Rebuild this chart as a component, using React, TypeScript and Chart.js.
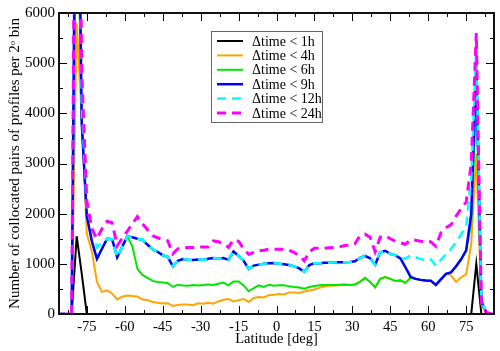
import React, { useEffect, useRef } from 'react';
import { Chart, registerables } from 'chart.js';

Chart.register(...registerables);

// Bin centres (2° bins), latitude in degrees
const latitudes = [
  -89, -87, -85, -83, -81, -79, -77, -75, -73, -71, -69, -67, -65, -63, -61, -59, -57, -55, -53, -51,
  -49, -47, -45, -43, -41, -39, -37, -35, -33, -31, -29, -27, -25, -23, -21, -19, -17, -15, -13, -11,
  -9, -7, -5, -3, -1, 1, 3, 5, 7, 9, 11, 13, 15, 17, 19, 21, 23, 25, 27, 29,
  31, 33, 35, 37, 39, 41, 43, 45, 47, 49, 51, 53, 55, 57, 59, 61, 63, 65, 67, 69,
  71, 73, 75, 77, 79, 81, 83, 85, 87, 89,
];

const lt1h = [
  0, 0, 0, 0, 0, 1550, 800, 0, 0, 0, 0, 0, 0, 0, 0, 0, 0, 0, 0, 0,
  0, 0, 0, 0, 0, 0, 0, 0, 0, 0, 0, 0, 0, 0, 0, 0, 0, 0, 0, 0,
  0, 0, 0, 0, 0, 0, 0, 0, 0, 0, 0, 0, 0, 0, 0, 0, 0, 0, 0, 0,
  0, 0, 0, 0, 0, 0, 0, 0, 0, 0, 0, 0, 0, 0, 0, 0, 0, 0, 0, 0,
  0, 0, 0, 0, 1000, 0, 0, 0, 0, 0,
];

const lt4h = [
  0, 0, 0, 0, 0, 5800, 3900, 1600, 1250, 640, 440, 470, 410, 290, 345, 370, 360, 350, 290, 280,
  240, 225, 210, 215, 160, 180, 190, 190, 175, 215, 205, 225, 205, 250, 285, 300, 250, 275, 300, 240,
  320, 340, 330, 375, 385, 400, 390, 430, 430, 420, 450, 470, 490, 525, 550, 565, 570, 575, 584, 580,
  590, 640, 720, 640, 530, 700, 735, 700, 660, 670, 620, 720, 700, 680, 670, 665, 580, 690, 800, 770,
  640, 730, 790, 1400, 3200, 200, 0, 0, 0, 0,
];

const lt6h = [
  0, 0, 0, 0, 0, 9000, 3800, 1950, 1450, 1100, 1300, 1500, 1490, 1130, 1340, 1550, 1350, 900, 780, 720,
  660, 640, 630, 620, 540, 584, 570, 565, 577, 570, 577, 590, 577, 603, 625, 570, 650, 650, 570, 453,
  518, 570, 538, 584, 564, 575, 571, 551, 538, 530, 505, 538, 558, 571, 577, 577, 580, 584, 590, 580,
  590, 640, 720, 640, 530, 700, 735, 700, 660, 670, 620, 720, 700, 680, 670, 665, 580, 690, 800, 830,
  950, 1090, 1270, 1800, 4400, 250, 30, 0, 0, 0,
];

const lt9h = [
  0, 0, 0, 0, 0, 12000, 3800, 1950, 1450, 1100, 1300, 1500, 1490, 1130, 1340, 1550, 1530, 1500, 1480, 1380,
  1290, 1240, 1170, 1140, 950, 1060, 1095, 1080, 1076, 1085, 1076, 1100, 1115, 1100, 1115, 1080, 1246, 1160, 1062, 899,
  964, 984, 1000, 1010, 1015, 1000, 990, 975, 950, 910, 840, 975, 1010, 1010, 1023, 1023, 1028, 1030, 1030, 1036,
  1050, 1120, 1160, 1110, 980, 1230, 1260, 1200, 1170, 1110, 930, 740, 700, 680, 670, 665, 580, 690, 800, 830,
  950, 1090, 1270, 2000, 5000, 250, 30, 0, 0, 0,
];

const lt12h = [
  0, 0, 0, 0, 0, 12500, 4200, 2100, 1750, 1330, 1420, 1500, 1490, 1130, 1340, 1550, 1530, 1500, 1480, 1380,
  1290, 1240, 1170, 1140, 950, 1060, 1095, 1080, 1076, 1085, 1076, 1100, 1115, 1100, 1115, 1080, 1246, 1160, 1062, 899,
  964, 984, 1000, 1010, 1015, 1000, 990, 975, 950, 910, 840, 975, 1010, 1010, 1023, 1023, 1028, 1030, 1030, 1036,
  1050, 1120, 1160, 1110, 980, 1230, 1260, 1200, 1170, 1110, 1100, 1170, 1130, 1100, 1060, 1090, 960, 1080, 1190, 1300,
  1430, 1590, 1750, 2700, 5300, 260, 30, 0, 0, 0,
];

const lt24h = [
  0, 0, 0, 0, 0, 14000, 4800, 2250, 1700, 1500, 1700, 1850, 1820, 1360, 1510, 1650, 1800, 1940, 1800, 1680,
  1560, 1520, 1480, 1460, 1200, 1300, 1320, 1325, 1325, 1330, 1338, 1338, 1456, 1440, 1400, 1330, 1480, 1450, 1300, 1190,
  1226, 1259, 1270, 1292, 1292, 1292, 1292, 1270, 1226, 1160, 1062, 1240, 1312, 1312, 1312, 1320, 1325, 1338, 1364, 1370,
  1400, 1560, 1590, 1530, 1240, 1530, 1560, 1500, 1450, 1420, 1390, 1480, 1470, 1450, 1440, 1440, 1350, 1620, 1720, 1780,
  1950, 2100, 2230, 3000, 5600, 250, 30, 0, 0, 0,
];

const seriesLabels = ['\u0394time < 1h', '\u0394time < 4h', '\u0394time < 6h', '\u0394time < 9h', '\u0394time < 12h', '\u0394time < 24h'];
const seriesValues = [lt1h, lt4h, lt6h, lt9h, lt12h, lt24h];
const seriesColors = ['#000000', '#ffa500', '#00e600', '#0000ff', '#00ffff', '#ff00ff'];
const seriesDash: number[][] = [[], [], [], [], [9, 6], [9, 6]];
const seriesWidth = [2, 2, 2, 2.5, 2.5, 3];

const xMajorTicks = [-75, -60, -45, -30, -15, 0, 15, 30, 45, 60, 75];
const xMinorTicks = [-82.5, -67.5, -52.5, -37.5, -22.5, -7.5, 7.5, 22.5, 37.5, 52.5, 67.5, 82.5];
const yMajorTicks = [0, 1000, 2000, 3000, 4000, 5000, 6000];
const yMinorTicks = [500, 1500, 2500, 3500, 4500, 5500];

const FONT = "'Liberation Serif', 'Times New Roman', serif";

const frameAndLegend = {
  id: 'frameAndLegend',
  afterDatasetsDraw(chart: any) {
    const { ctx, chartArea: a, scales } = chart;
    const xs = scales.x;
    const ys = scales.y;
    ctx.save();
    ctx.strokeStyle = '#000';
    ctx.lineWidth = 1;
    const seg = (x1: number, y1: number, x2: number, y2: number) => {
      ctx.beginPath();
      ctx.moveTo(x1, y1);
      ctx.lineTo(x2, y2);
      ctx.stroke();
    };
    xMajorTicks.forEach((v) => {
      const p = Math.round(xs.getPixelForValue(v)) + 0.5;
      seg(p, a.bottom, p, a.bottom - 8);
      seg(p, a.top, p, a.top + 8);
    });
    xMinorTicks.forEach((v) => {
      const p = Math.round(xs.getPixelForValue(v)) + 0.5;
      seg(p, a.bottom, p, a.bottom - 4);
      seg(p, a.top, p, a.top + 4);
    });
    yMajorTicks.forEach((v) => {
      const p = Math.round(ys.getPixelForValue(v)) + 0.5;
      seg(a.left, p, a.left + 8, p);
      seg(a.right, p, a.right - 8, p);
    });
    yMinorTicks.forEach((v) => {
      const p = Math.round(ys.getPixelForValue(v)) + 0.5;
      seg(a.left, p, a.left + 4, p);
      seg(a.right, p, a.right - 4, p);
    });
    ctx.lineWidth = 2;
    ctx.strokeStyle = '#111';
    ctx.strokeRect(a.left, a.top, a.right - a.left, a.bottom - a.top);

    // legend box
    const bx = 211;
    const by = 31;
    const bw = 111;
    const bh = 91;
    ctx.fillStyle = '#fff';
    ctx.fillRect(bx, by, bw, bh);
    ctx.lineWidth = 1;
    ctx.strokeStyle = '#666';
    ctx.strokeRect(bx + 0.5, by + 0.5, bw, bh);
    ctx.font = `14px ${FONT}`;
    ctx.textBaseline = 'middle';
    ctx.textAlign = 'left';
    seriesLabels.forEach((lab, i) => {
      const yy = by + 10 + i * 14.4;
      ctx.strokeStyle = seriesColors[i];
      ctx.lineWidth = seriesWidth[i];
      ctx.setLineDash(seriesDash[i]);
      seg(217, yy, 243, yy);
      ctx.setLineDash([]);
      ctx.fillStyle = '#000';
      ctx.fillText(lab, 252, yy + 1);
    });
    ctx.restore();
  },
};

export default function App() {
  const ref = useRef<HTMLCanvasElement | null>(null);

  useEffect(() => {
    if (!ref.current) return;
    const datasets = seriesLabels.map((lab, i) => ({
      label: lab,
      data: latitudes.map((lat, j) => ({ x: lat, y: seriesValues[i][j] })),
      borderColor: seriesColors[i],
      backgroundColor: seriesColors[i],
      borderWidth: seriesWidth[i],
      borderDash: seriesDash[i],
      pointRadius: 0,
      tension: 0,
      fill: false,
      clip: 0,
      order: 6 - i,
    }));
    const chart = new Chart(ref.current, {
      type: 'line',
      data: { datasets },
      plugins: [frameAndLegend],
      options: {
        animation: false,
        responsive: false,
        devicePixelRatio: 1,
        layout: { padding: { top: 9, right: 6, left: 0, bottom: 0 } },
        plugins: { legend: { display: false }, tooltip: { enabled: false } },
        scales: {
          x: {
            type: 'linear',
            min: -86,
            max: 86,
            afterBuildTicks: (s: any) => {
              s.ticks = xMajorTicks.map((v) => ({ value: v }));
            },
            afterFit: (s: any) => {
              s.height = 37;
            },
            grid: { display: false, drawTicks: false },
            border: { display: false },
            ticks: {
              callback: (v: any) => String(v),
              padding: 4,
              autoSkip: false,
              maxRotation: 0,
              color: '#000',
              font: { family: FONT, size: 14.5 },
            },
            title: {
              display: true,
              text: 'Latitude [deg]',
              color: '#000',
              font: { family: FONT, size: 14.5 },
              padding: { top: 0, bottom: 3 },
            },
          },
          y: {
            type: 'linear',
            min: 0,
            max: 6000,
            afterBuildTicks: (s: any) => {
              s.ticks = yMajorTicks.map((v) => ({ value: v }));
            },
            afterFit: (s: any) => {
              s.width = 59;
            },
            grid: { display: false, drawTicks: false },
            border: { display: false },
            ticks: {
              callback: (v: any) => String(v),
              padding: 4,
              color: '#000',
              font: { family: FONT, size: 15 },
            },
            title: {
              display: true,
              text: 'Number of collocated pairs of profiles per 2\u1D52 bin',
              color: '#000',
              font: { family: FONT, size: 15 },
              padding: { top: 6, bottom: 0 },
            },
          },
        },
      } as any,
    });
    return () => chart.destroy();
  }, []);

  return (
    <div style={{ position: 'absolute', left: 0, top: 0, width: 500, height: 351, background: '#fff' }}>
      <canvas ref={ref} width={500} height={351} style={{ width: 500, height: 351, display: 'block' }} />
    </div>
  );
}
